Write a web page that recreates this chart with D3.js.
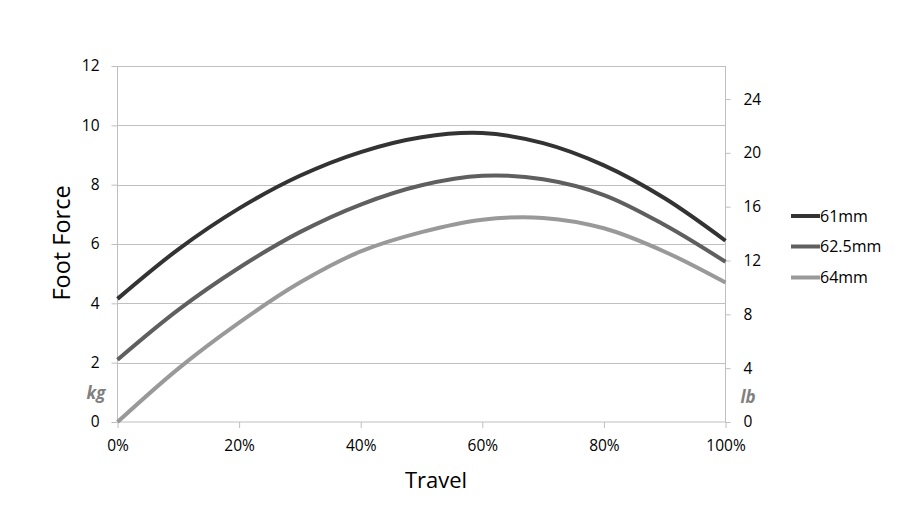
<!DOCTYPE html>
<html><head><meta charset="utf-8">
<script src="https://cdn.jsdelivr.net/npm/d3@7"></script>
<style>body{margin:0;background:#fff}svg{display:block}text{font-family:"Open Sans",sans-serif}</style>
</head><body><svg id="c" width="924" height="520"></svg>
<script>
const travel = [0,10,20,30,40,50,60,70,80,90,100];
const seriesNames = ["61mm","62.5mm","64mm"];
const s61 = [4.15,5.82,7.2,8.3,9.1,9.6,9.74,9.4,8.65,7.54,6.11];
const s625 = [2.1,3.78,5.2,6.4,7.33,7.98,8.3,8.18,7.65,6.64,5.4];
const s64 = [0,1.8,3.35,4.7,5.75,6.4,6.82,6.88,6.53,5.74,4.7];
const colors = ["#333333","#5f5f5f","#999999"];
const kgTicks = [0,2,4,6,8,10,12];
const lbTicks = [0,4,8,12,16,20,24];
const xTicks = [0,20,40,60,80,100];

const svg = d3.select("#c");
const L=117.5, R=725.5, T=66, B=422;
const x = d3.scaleLinear().domain([0,100]).range([L,R]);
const y = d3.scaleLinear().domain([0,12]).range([B,T]);
const y2 = d3.scaleLinear().domain([0,12*2.20462]).range([B,T]);

// gridlines
svg.append("g").selectAll("line").data(kgTicks.filter(d=>d>0)).join("line")
  .attr("x1",L).attr("x2",R).attr("y1",d=>Math.round(y(d))+0.5).attr("y2",d=>Math.round(y(d))+0.5)
  .attr("stroke","#c0c0c0").attr("stroke-width",1);

// left axis
const gl = svg.append("g").attr("transform",`translate(${L},0)`)
  .call(d3.axisLeft(y).tickValues(kgTicks).tickSize(6).tickPadding(12));
gl.select(".domain").attr("stroke","#bfbfbf").attr("d",`M0,${T}V${B}`);
gl.selectAll(".tick line").attr("stroke","#bfbfbf");
gl.selectAll(".tick text").attr("font-size",15.5).attr("fill","#000").attr("font-family","Open Sans");

// right axis
const gr = svg.append("g").attr("transform",`translate(${R},0)`)
  .call(d3.axisRight(y2).tickValues(lbTicks).tickSize(5).tickPadding(13));
gr.select(".domain").attr("stroke","#bfbfbf").attr("d",`M0,${T}V${B}`);
gr.selectAll(".tick line").attr("stroke","#bfbfbf");
gr.selectAll(".tick text").attr("font-size",15.5).attr("fill","#000").attr("font-family","Open Sans");

// bottom axis
const gb = svg.append("g").attr("transform",`translate(0,${B})`)
  .call(d3.axisBottom(x).tickValues(xTicks).tickFormat(d=>d+"%").tickSize(6).tickPadding(12));
gb.select(".domain").attr("stroke","#bfbfbf").attr("d",`M${L},0H${R}`);
gb.selectAll(".tick line").attr("stroke","#bfbfbf");
gb.selectAll(".tick text").attr("font-size",15.5).attr("fill","#000").attr("font-family","Open Sans");

// lines
const data = [s61,s625,s64];
const line = d3.line().x((d,i)=>x(travel[i])).y(d=>y(d)).curve(d3.curveCatmullRom.alpha(0.5));
svg.append("g").selectAll("path").data(data).join("path")
  .attr("d",line).attr("fill","none").attr("stroke",(d,i)=>colors[i]).attr("stroke-width",4);

// units
svg.append("text").attr("x",96).attr("y",399).attr("text-anchor","middle")
  .attr("font-size",17).attr("font-weight","bold").attr("font-style","italic").attr("fill","#808080").text("kg");
svg.append("text").attr("x",748).attr("y",403).attr("text-anchor","middle")
  .attr("font-size",17).attr("font-weight","bold").attr("font-style","italic").attr("fill","#808080").text("lb");

// axis titles
svg.append("text").attr("transform","translate(70,243) rotate(-90)").attr("text-anchor","middle")
  .attr("font-size",23.5).attr("fill","#000").text("Foot Force");
svg.append("text").attr("x",436).attr("y",488).attr("text-anchor","middle")
  .attr("font-size",22).attr("fill","#000").text("Travel");

// legend
const leg = svg.append("g").selectAll("g").data(seriesNames).join("g")
  .attr("transform",(d,i)=>`translate(791,${[216,246.5,277.5][i]})`);
leg.append("line").attr("x1",0).attr("x2",29).attr("stroke",(d,i)=>colors[i]).attr("stroke-width",4);
leg.append("text").attr("x",29).attr("dy","0.35em").attr("font-size",16).attr("fill","#000").text(d=>d);
</script></body></html>
